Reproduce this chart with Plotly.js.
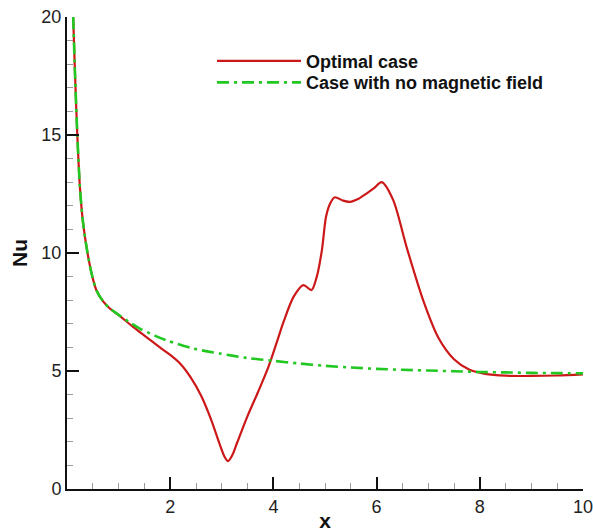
<!DOCTYPE html>
<html>
<head>
<meta charset="utf-8">
<script src="https://cdn.plot.ly/plotly-3.0.1.min.js"></script>
<style>html,body{margin:0;padding:0;background:#fff;}#chart{width:593px;height:532px;}</style>
</head>
<body>
<div id="chart"></div>
<script>
// Optimal case (red solid)
const optimalX = [0.12, 0.155, 0.2, 0.25, 0.3, 0.35, 0.41, 0.48, 0.57, 0.7, 0.83, 0.96, 1.28, 1.5, 1.8, 2.0, 2.2, 2.4, 2.6, 2.8, 2.95, 3.05, 3.12, 3.2, 3.3, 3.5, 3.7, 3.9, 4.1, 4.2, 4.39, 4.58, 4.74, 4.84, 4.94, 5.02, 5.10, 5.19, 5.35, 5.48, 5.65, 5.81, 5.95, 6.10, 6.32, 6.58, 6.91, 7.2, 7.5, 7.8, 8.1, 8.5, 9.0, 9.5, 10.0];
const optimalNu = [20, 17.6, 15.0, 12.8, 11.5, 10.65, 9.85, 9.1, 8.42, 7.95, 7.65, 7.44, 6.87, 6.5, 6.0, 5.68, 5.3, 4.72, 3.95, 2.9, 1.95, 1.38, 1.18, 1.42, 1.98, 3.1, 4.1, 5.15, 6.45, 7.1, 8.14, 8.64, 8.43, 8.99, 10.12, 11.54, 12.1, 12.36, 12.22, 12.17, 12.3, 12.53, 12.75, 13.0, 12.25, 10.26, 7.95, 6.4, 5.5, 5.05, 4.88, 4.8, 4.79, 4.81, 4.86];
// Case with no magnetic field (green dash-dot)
const noFieldX = [0.12, 0.155, 0.2, 0.25, 0.3, 0.35, 0.41, 0.48, 0.57, 0.7, 0.83, 0.96, 1.2, 1.41, 1.7, 1.93, 2.45, 2.96, 3.5, 4.0, 4.5, 5.0, 5.5, 6.0, 6.5, 7.0, 7.5, 8.0, 8.5, 9.0, 9.5, 10];
const noFieldNu = [20, 17.6, 15.0, 12.8, 11.5, 10.65, 9.85, 9.1, 8.42, 7.95, 7.65, 7.44, 7.08, 6.80, 6.5, 6.30, 5.95, 5.74, 5.55, 5.43, 5.32, 5.22, 5.15, 5.09, 5.05, 5.02, 4.99, 4.96, 4.94, 4.92, 4.91, 4.90];
const seriesNames = ["Optimal case", "Case with no magnetic field"];
const xTicks = [2, 4, 6, 8, 10];
const yTicks = [0, 5, 10, 15, 20];

const traces = [
  {x: optimalX, y: optimalNu, name: seriesNames[0], type: 'scatter', mode: 'lines', legend: 'legend',
   line: {color: 'rgb(204,24,24)', width: 2.2, shape: 'spline', smoothing: 0.8}},
  {x: noFieldX, y: noFieldNu, name: seriesNames[1], type: 'scatter', mode: 'lines', legend: 'legend2',
   line: {color: 'rgb(34,200,34)', width: 2.6, dash: '12px,5px,3px,5px', shape: 'spline', smoothing: 0.8}}
];

const legendFont = {family: 'Liberation Sans, Arial, sans-serif', size: 18, color: '#111', weight: 'bold'};
const axisFont = {family: 'Liberation Sans, Arial, sans-serif', size: 18, color: '#222'};
const layout = {
  width: 593, height: 532,
  margin: {l: 67, r: 10, t: 17, b: 43},
  paper_bgcolor: '#fff', plot_bgcolor: '#fff',
  showlegend: true,
  legend: {x: 0.281, y: 0.9455, xanchor: 'left', yanchor: 'top', bgcolor: 'rgba(0,0,0,0)',
           font: legendFont, itemwidth: 84},
  legend2: {x: 0.281, y: 0.900, xanchor: 'left', yanchor: 'top', bgcolor: 'rgba(0,0,0,0)',
           font: legendFont, itemwidth: 84},
  xaxis: {range: [0, 10], tickmode: 'array', tickvals: xTicks, ticktext: xTicks.map(String),
          showgrid: false, zeroline: false, showline: true, linecolor: '#111', linewidth: 2,
          ticks: 'inside', ticklen: 12, tickwidth: 2, tickcolor: '#111', tickfont: axisFont,
          ticklabeloverflow: 'allow',
          minor: {tickmode: 'linear', tick0: 0, dtick: 0.5, ticks: 'inside', ticklen: 6, tickwidth: 1, tickcolor: '#999', showgrid: false},
          title: {text: 'x', font: {family: 'Liberation Sans, Arial, sans-serif', size: 21, color: '#111', weight: 'bold'}, standoff: 4}},
  yaxis: {range: [0, 20], tickmode: 'array', tickvals: yTicks, ticktext: yTicks.map(String),
          showgrid: false, zeroline: false, showline: true, linecolor: '#111', linewidth: 2,
          ticks: 'inside', ticklen: 12, tickwidth: 2, tickcolor: '#111', tickfont: axisFont,
          ticklabeloverflow: 'allow',
          minor: {tickmode: 'linear', tick0: 0, dtick: 1, ticks: 'inside', ticklen: 6, tickwidth: 1, tickcolor: '#999', showgrid: false},
          title: {text: 'Nu', font: {family: 'Liberation Sans, Arial, sans-serif', size: 21, color: '#111', weight: 'bold'}, standoff: 8}}
};
Plotly.newPlot('chart', traces, layout, {displayModeBar: false, staticPlot: true});
</script>
</body>
</html>
